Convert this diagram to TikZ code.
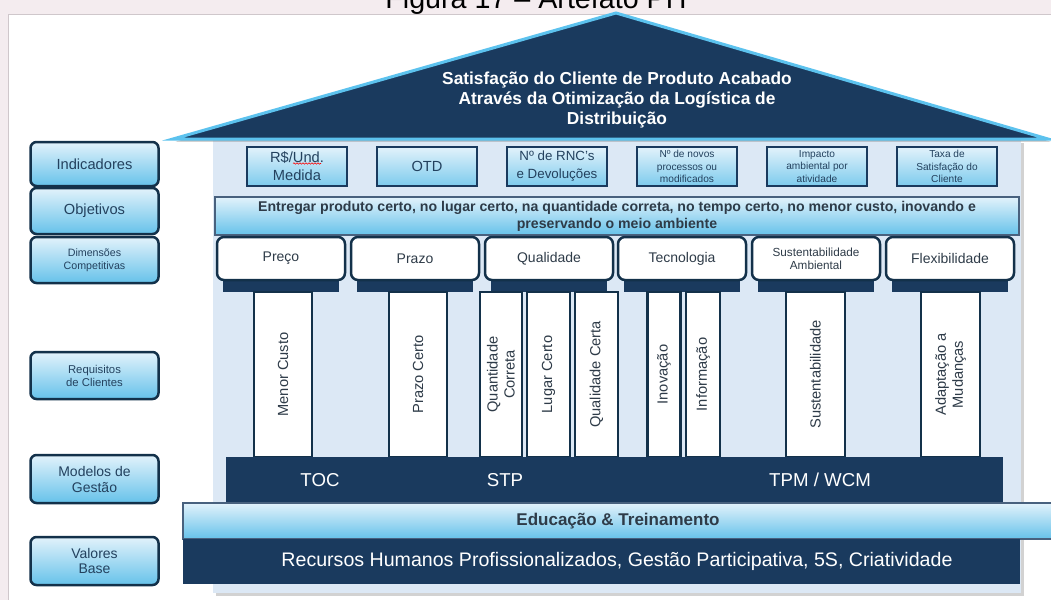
\documentclass[tikz,border=0pt]{standalone}
\usepackage{fontspec}
\setmainfont{Liberation Sans}
\usetikzlibrary{shadows,decorations.pathmorphing}

\newlength\pu
\setlength\pu{0.75pt}

\definecolor{navy}{HTML}{1A3A5E}
\definecolor{roofedge}{HTML}{5CC2EE}
\definecolor{housebg}{HTML}{DCE8F5}
\definecolor{edgedark}{HTML}{13314A}
\definecolor{lbtop}{HTML}{E2F2FB}
\definecolor{lbbot}{HTML}{66C2EA}
\definecolor{labeltext}{HTML}{23415E}
\definecolor{coltext}{HTML}{2E3B48}
\definecolor{pinkbg}{HTML}{F4ECEF}
\definecolor{framegray}{HTML}{CFC7CB}

\tikzset{
  sidelabel/.style={draw=edgedark, line width=2.5\pu, rounded corners=6\pu,
    top color=lbtop, bottom color=lbbot, text=labeltext, align=center,
    minimum width=128\pu, minimum height=45\pu, inner sep=0pt},
  indbox/.style={draw=navy, line width=1.2\pu, top color=lbtop, bottom color=lbbot!85,
    text=labeltext, align=center, minimum width=100\pu, minimum height=39\pu, inner sep=0pt},
  dimbox/.style={draw=edgedark, line width=2.5\pu, rounded corners=7\pu, fill=white,
    text=coltext, align=center, minimum width=128\pu, minimum height=43\pu, inner sep=0pt},
  pillar/.style={draw=edgedark, line width=2.5\pu, fill=white, rotate=90,
    text=coltext, align=center, minimum width=165\pu, inner sep=0pt,
    font=\fontsize{11}{12.75}\selectfont},
  darkbar/.style={fill=navy, inner sep=0pt},
  lightbar/.style={draw=navy!80, line width=1.2\pu, top color=lbtop, bottom color=lbbot,
    inner sep=0pt, font=\bfseries\color{coltext}},
}

\begin{document}
\begin{tikzpicture}[x=1\pu,y=-1\pu]
        \useasboundingbox (0,0) rectangle (1051,600);

        % page and frame
        \fill[pinkbg] (0,0) rectangle (1051,600);
        \filldraw[fill=white, draw=framegray] (8,14) rectangle (1070,620);
        \node[anchor=base, font=\fontsize{21.5}{24}\selectfont] (title) at (536,8)
                {Figura 17 -- Artefato PH};

        % house body
        \fill[housebg, drop shadow={opacity=0.35, shadow xshift=2pt, shadow yshift=-2pt}]
                (213,140) rectangle (1021,593);

        % roof
        \draw[fill=navy, draw=roofedge, line width=3\pu, line join=miter,
              drop shadow={opacity=0.55, shadow xshift=2pt, shadow yshift=-2pt}]
                (173,139) -- (616,13) -- (1048,139) -- cycle;
        \node[text=white, align=center, font=\fontsize{13}{15}\bfseries\selectfont]
                (goal) at (617,100)
                {Satisfação do Cliente de Produto Acabado\\
                 Através da Otimização da Logística de\\
                 Distribuição};

        % side labels
        \foreach \y/\h/\ltext/\fs/\bs in {
            164/44/Indicadores/11/13,
            211/46/Objetivos/11/13,
            260/46/{Dimensões\\Competitivas}/8/9.5,
            375.5/47/{Requisitos\\de Clientes}/8.5/9.75,
            479/48/{Modelos de\\Gestão}/10.5/12,
            561/48/{Valores\\Base}/10.5/11.5}
                \node[sidelabel, minimum height=\h\pu, font=\fontsize{\fs}{\bs}\selectfont]
                        (side\y) at (94.5,\y) {\ltext};

        % indicators
        \foreach \i/\itext/\fs/\bs in {
            0/{R\$/Und.\\Medida}/11/13.5,
            1/OTD/11/13.5,
            2/{Nº de RNC's\\e Devoluções}/10/13.5,
            3/{Nº de novos\\processos ou\\modificados}/7.6/9.5,
            4/{Impacto\\ambiental por\\atividade}/7.6/9.5,
            5/{Taxa de\\Satisfação do\\Cliente}/7.6/9.5}
                \node[indbox, font=\fontsize{\fs}{\bs}\selectfont]
                        (ind\i) at (297+130*\i,166.5) {\itext};
        \draw[red, line width=0.6\pu, decorate,
              decoration={snake, amplitude=0.7\pu, segment length=3\pu}]
                (293,163.5) -- (321,163.5);

        % objective
        \node[lightbar, minimum width=804\pu, minimum height=38\pu, align=center,
              font=\fontsize{10.6}{12.75}\bfseries\selectfont\color{coltext}]
                (objective) at (617,216)
                {Entregar produto certo, no lugar certo, na quantidade correta, no tempo certo, no menor custo, inovando e\\
                 preservando o meio ambiente};

        % competitive dimensions and beams
        \foreach \x/\dtext/\fs/\bs in {
            281/Preço/10.5/12,
            415/Prazo/10.5/12,
            549/Qualidade/10.5/12,
            682/Tecnologia/10.5/12,
            816/{Sustentabilidade\\Ambiental}/8.8/10,
            950/Flexibilidade/10.5/12} {
                \fill[navy] (\x-58,280) rectangle (\x+58,292);
                \node[dimbox, font=\fontsize{\fs}{\bs}\selectfont] (dim\x) at (\x,258.5) {\dtext};
        }

        % customer requirements
        \foreach \x/\w/\ctext in {
            283/58/Menor Custo,
            418/58/Prazo Certo,
            501/42/{Quantidade\\Correta},
            548.5/43/Lugar Certo,
            596.5/43/Qualidade Certa,
            664/33/Inovação,
            703/34/Informação,
            815.5/59/Sustentabilidade,
            950.5/59/{Adaptação a\\Mudanças}}
                \node[pillar, minimum height=\w\pu] (req\x) at (\x,374.5) {\ctext};

        % management models
        \node[darkbar, minimum width=777\pu, minimum height=46\pu] (models) at (614.5,480) {};
        \foreach \x/\mtext in {320/TOC, 505/STP, 820/{TPM / WCM}}
                \node[text=white, font=\fontsize{14}{16}\selectfont] (model\x) at (\x,480) {\mtext};

        % base
        \node[lightbar, minimum width=870\pu, minimum height=36\pu,
              font=\fontsize{12.75}{14}\bfseries\selectfont\color{coltext}]
                (education) at (618,521) {Educação \& Treinamento};
        \node[darkbar, minimum width=837\pu, minimum height=45\pu] (values) at (601.5,561.5) {};
        \node[text=white, font=\fontsize{14.7}{16}\selectfont] (valuestext) at (617,561.5)
                {Recursos Humanos Profissionalizados, Gestão Participativa, 5S, Criatividade};
\end{tikzpicture}
\end{document}
